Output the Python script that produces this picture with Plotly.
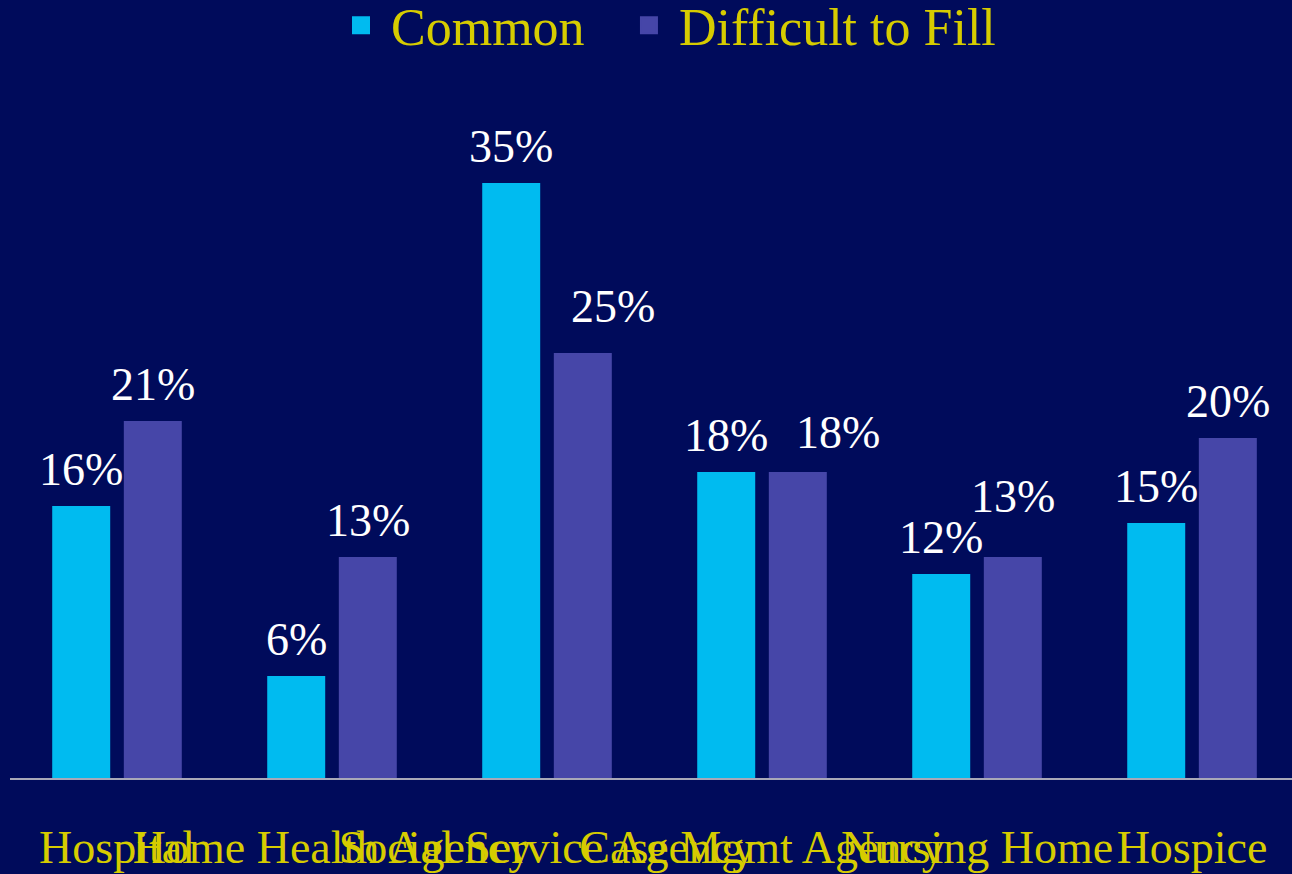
import plotly.graph_objects as go

categories = ["Hospital", "Home Health Agency", "Social Service Agency",
              "Case Mgmt Agency", "Nursing Home", "Hospice"]
common = [16, 6, 35, 18, 12, 15]
difficult = [21, 13, 25, 18, 13, 20]
series_names = ["Common", "Difficult to Fill"]
series_colors = ["#00BBF0", "#4646A8"]

BG = "#000B5B"
YELLOW = "#D6CC00"
FONT = "Liberation Serif, Times New Roman, serif"

# label nudges (pixels) used by the original slide layout: (series index, category index) -> (dx, dy)
label_nudge = {(1, 2): (30, 10), (1, 3): (40, 3), (1, 4): (0, 24)}
legend_ids = ["legend", "legend2"]
legend_x = [0.2504, 0.4750]

fig = go.Figure()
for name, vals, col in zip(series_names, [common, difficult], series_colors):
    fig.add_trace(go.Bar(name=name, x=categories, y=vals, marker_color=col,
                         marker_line_width=0, showlegend=False))
# legend entries (larger square swatches)
for name, col, lid in zip(series_names, series_colors, legend_ids):
    fig.add_trace(go.Scatter(name=name, x=[None], y=[None], mode="markers",
                             marker=dict(symbol="square", size=16, color=col,
                                         line=dict(width=2, color=col)),
                             showlegend=True, hoverinfo="skip", legend=lid))

# value labels
for si, (vals, shift) in enumerate([(common, -35.75), (difficult, 35.75)]):
    for ci, (c, v) in enumerate(zip(categories, vals)):
        dx, dy = label_nudge.get((si, ci), (0, 0))
        fig.add_annotation(x=c, y=v, text=f"{v}%", showarrow=False,
                           yanchor="bottom", xanchor="center",
                           xshift=shift + dx, yshift=9 + dy,
                           font=dict(family=FONT, size=46, color="white"))

legend_style = dict(orientation="h", xanchor="left", y=1.1363, yanchor="top",
                    font=dict(family=FONT, size=52, color=YELLOW),
                    bgcolor="rgba(0,0,0,0)", itemwidth=50)

fig.update_layout(
    width=1292, height=874,
    paper_bgcolor=BG, plot_bgcolor=BG,
    margin=dict(l=10, r=0, t=80, b=96, autoexpand=False),
    barmode="group", bargap=0.334, bargroupgap=0.19,
    font=dict(family=FONT, color=YELLOW),
    showlegend=True,
    legend=dict(x=legend_x[0], **legend_style),
    legend2=dict(x=legend_x[1], **legend_style),
    xaxis=dict(range=[-0.4977, 5.465], showgrid=False, zeroline=False,
               showline=True, linecolor="#A8A8B8", linewidth=2,
               tickangle=0, ticks="", ticklabelstandoff=28,
               tickfont=dict(family=FONT, size=46, color=YELLOW)),
    yaxis=dict(range=[0, 41.06], visible=False, showgrid=False, zeroline=False),
)

fig.write_html("out.html", config={"displayModeBar": False},
               post_script="document.body.style.margin='0';document.body.style.background='#000B5B';")
